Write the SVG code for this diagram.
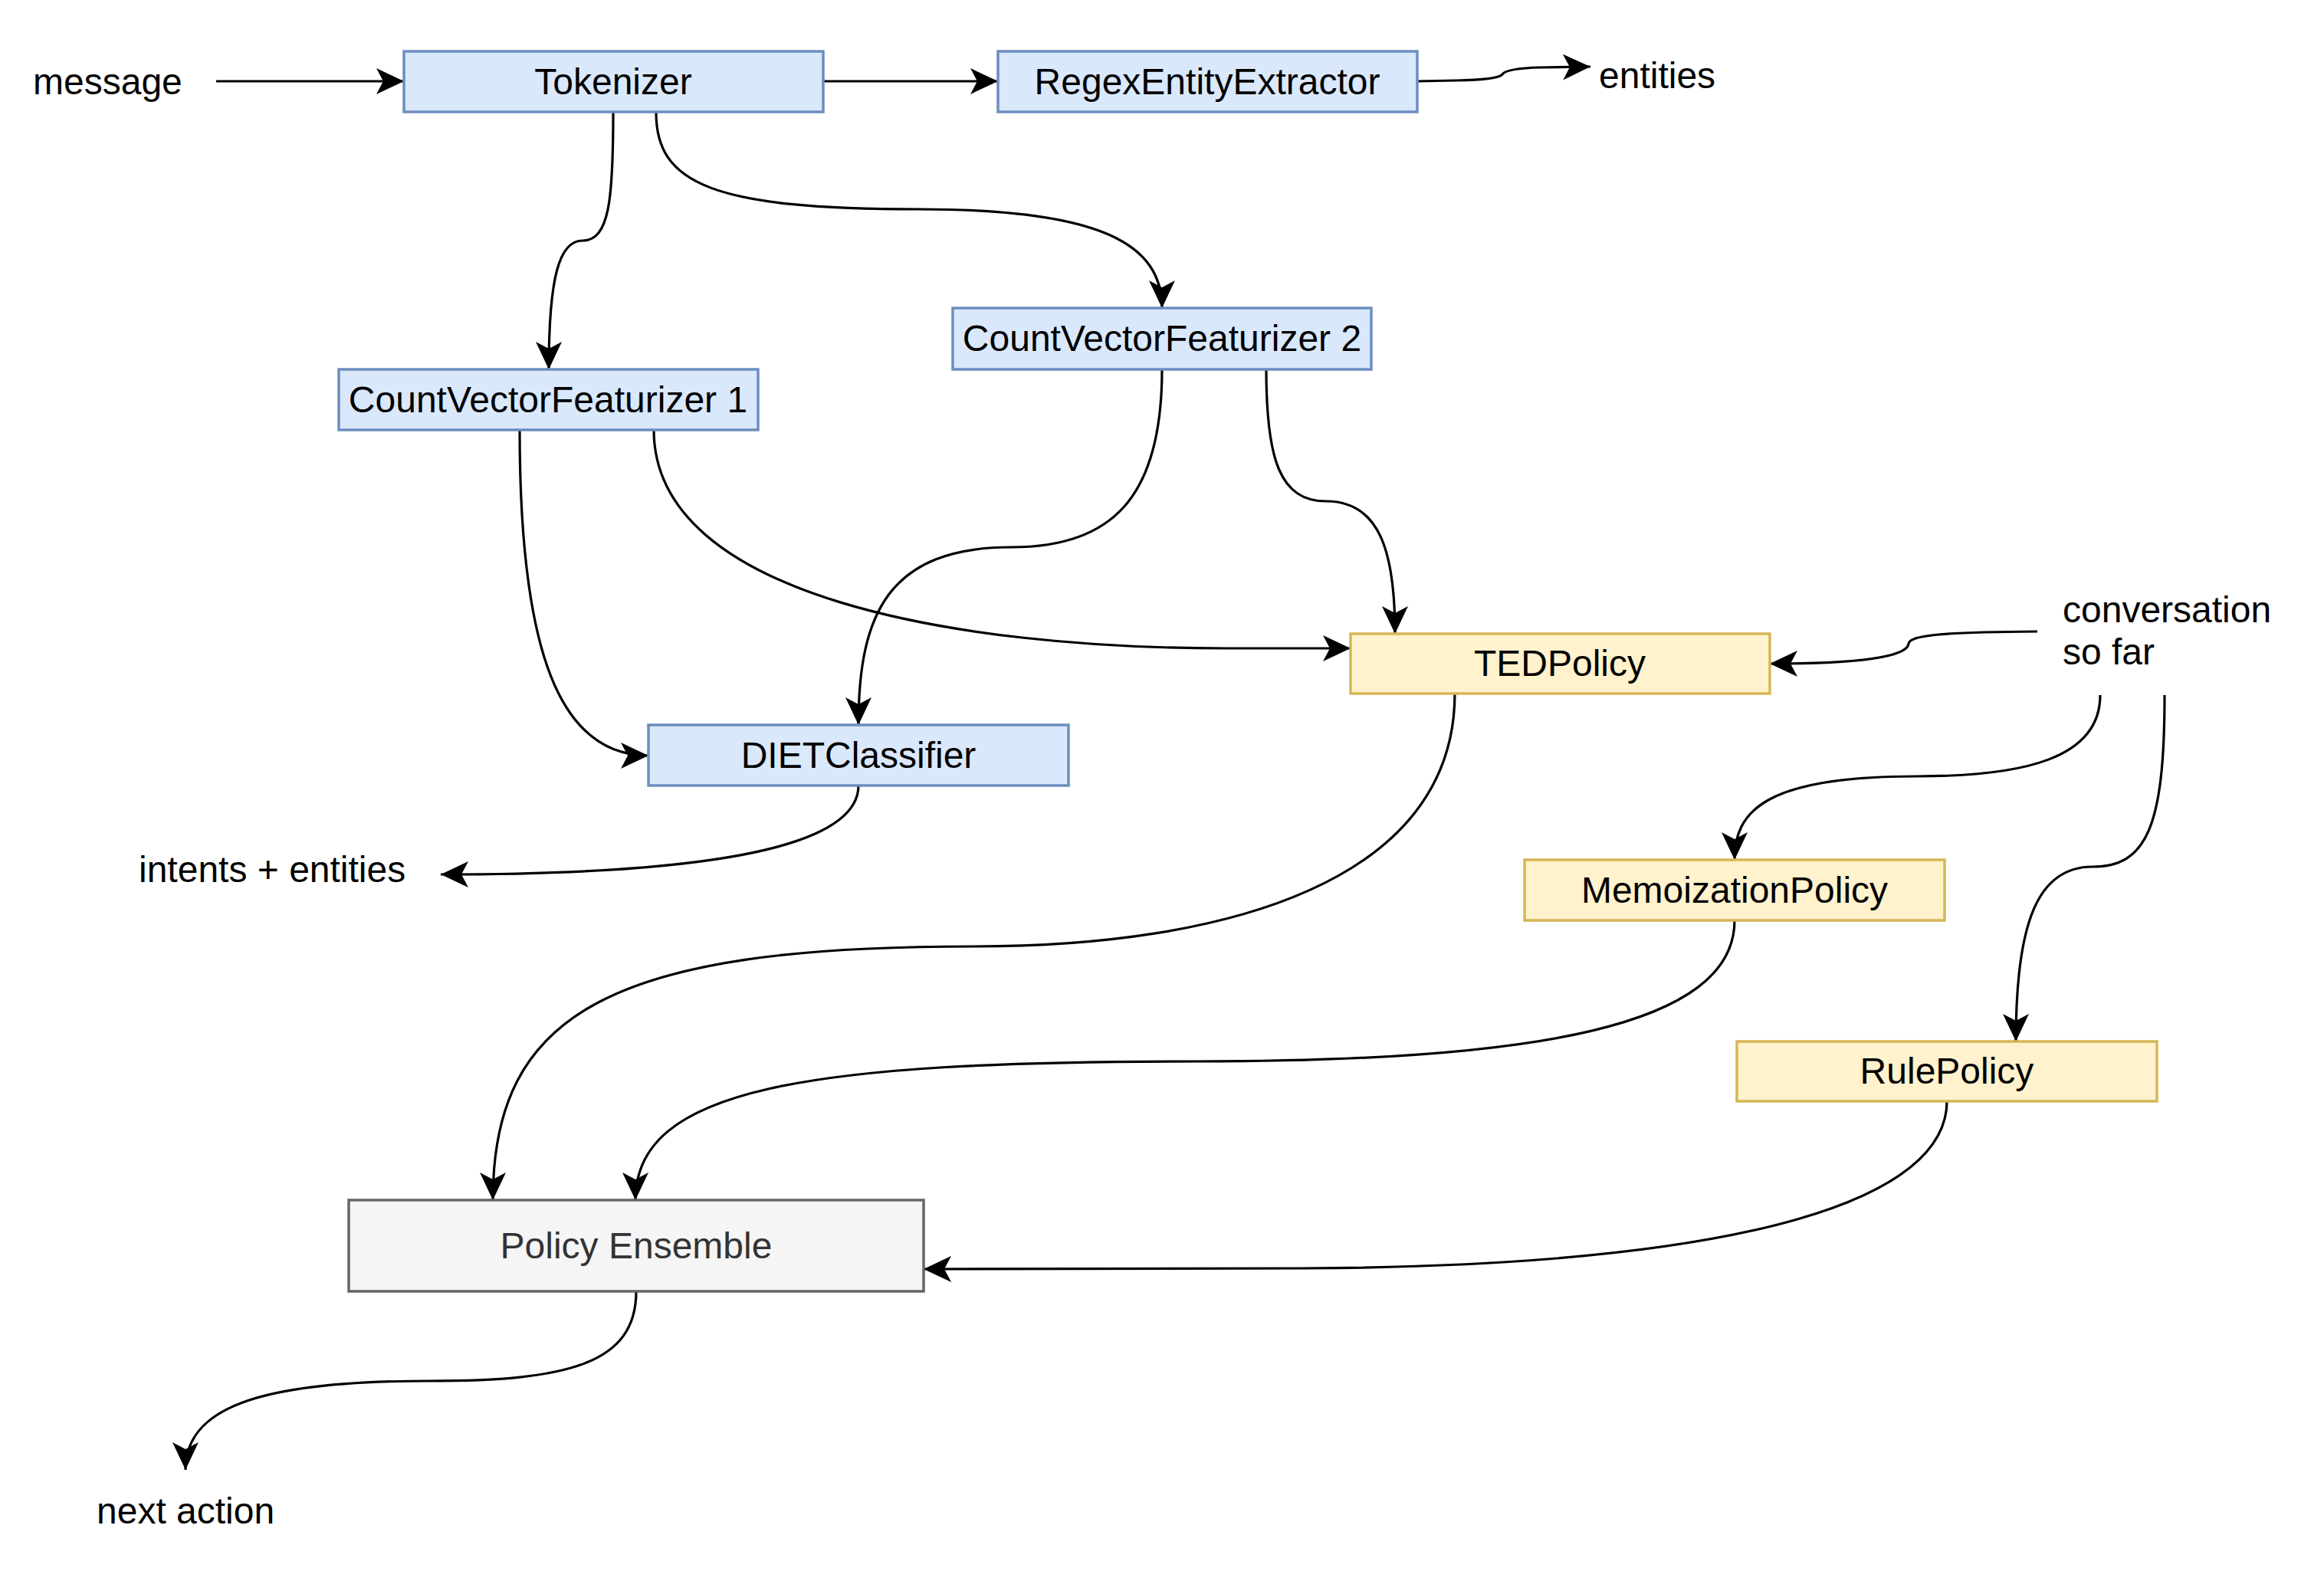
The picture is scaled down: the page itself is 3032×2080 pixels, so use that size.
<svg xmlns="http://www.w3.org/2000/svg" width="3032" height="2080" viewBox="0 0 3032 2080">
<style>
.lbl{font-family:"Liberation Sans",Arial,Helvetica,sans-serif;font-size:48px;fill:#000}
.ctr{text-anchor:middle}
.blue{fill:#dae8fc;stroke:#6c8ebf;stroke-width:3.5}
.yel{fill:#fff2cc;stroke:#d6b656;stroke-width:3.5}
.gray{fill:#f5f5f5;stroke:#666666;stroke-width:3.5}
.edge{fill:none;stroke:#000;stroke-width:3.2;marker-end:url(#arr)}
</style>
<defs>
<marker id="arr" viewBox="0 0 36 34" refX="36" refY="17" markerUnits="userSpaceOnUse" markerWidth="36" markerHeight="34" orient="auto">
<path d="M0,0 L36,17 L0,34 L9,17 Z" fill="#000"/>
</marker>
</defs>
<rect width="3032" height="2080" fill="#ffffff"/>
<g id="connectors">
<path class="edge" d="M282,106 L527,106"/>
<path class="edge" d="M1074,106 L1302,106"/>
<path class="edge" d="M1849,106 L1900,105 Q1955,104 1960,97 Q1966,89 2010,88 L2075,87"/>
<path class="edge" d="M800,147 C800,260 795,314 760,314 C730,314 716,360 716,482"/>
<path class="edge" d="M856,147 C856,240 930,273 1200,273 C1440,273 1516,320 1516,402"/>
<path class="edge" d="M678,561 C678,850 730,986 846,986"/>
<path class="edge" d="M853,561 C853,780 1250,846 1600,846 L1762,846"/>
<path class="edge" d="M1516,482 C1516,650 1450,714 1320,714 C1160,714 1120,800 1120,946"/>
<path class="edge" d="M1652,482 C1652,600 1670,654 1730,654 C1800,654 1820,720 1820,827"/>
<path class="edge" d="M2658,824 C2530,825 2492,829 2490,840 C2488,858 2420,866 2309,866"/>
<path class="edge" d="M2740,907 C2740,990 2640,1013 2500,1013 C2300,1013 2263,1060 2263,1122"/>
<path class="edge" d="M2824,907 C2824,1080 2800,1131 2730,1131 C2660,1131 2630,1200 2630,1359"/>
<path class="edge" d="M1120,1025 C1120,1120 850,1141 575,1141"/>
<path class="edge" d="M1898,905 C1898,1150 1600,1235 1270,1235 C800,1235 643,1320 643,1566"/>
<path class="edge" d="M2263,1201 C2263,1340 2000,1385 1560,1385 C1050,1385 829,1420 829,1566"/>
<path class="edge" d="M2540,1437 C2540,1560 2300,1652 1700,1655 L1205,1656"/>
<path class="edge" d="M830,1685 C830,1780 740,1802 560,1802 C330,1802 242,1840 242,1918"/>
</g>
<g id="node-tokenizer"><rect class="blue" x="527" y="67" width="547" height="79"/><text class="lbl ctr" x="800" y="123">Tokenizer</text></g>
<g id="node-regex"><rect class="blue" x="1302" y="67" width="547" height="79"/><text class="lbl ctr" x="1575" y="123">RegexEntityExtractor</text></g>
<g id="node-cvf1"><rect class="blue" x="442" y="482" width="547" height="79"/><text class="lbl ctr" x="715" y="538">CountVectorFeaturizer 1</text></g>
<g id="node-cvf2"><rect class="blue" x="1243" y="402" width="546" height="80"/><text class="lbl ctr" x="1516" y="458">CountVectorFeaturizer 2</text></g>
<g id="node-diet"><rect class="blue" x="846" y="946" width="548" height="79"/><text class="lbl ctr" x="1120" y="1002">DIETClassifier</text></g>
<g id="node-ted"><rect class="yel" x="1762" y="827" width="547" height="78"/><text class="lbl ctr" x="2035" y="882">TEDPolicy</text></g>
<g id="node-memo"><rect class="yel" x="1989" y="1122" width="548" height="79"/><text class="lbl ctr" x="2263" y="1178">MemoizationPolicy</text></g>
<g id="node-rule"><rect class="yel" x="2266" y="1359" width="548" height="78"/><text class="lbl ctr" x="2540" y="1414">RulePolicy</text></g>
<g id="node-ensemble"><rect class="gray" x="455" y="1566" width="750" height="119"/><text class="lbl ctr" x="830" y="1642" style="fill:#333333">Policy Ensemble</text></g>
<g id="node-message"><text class="lbl" x="43" y="123">message</text></g>
<g id="node-entities"><text class="lbl" x="2086" y="115">entities</text></g>
<g id="node-conversation"><text class="lbl" x="2691" y="812">conversation</text><text class="lbl" x="2691" y="867">so far</text></g>
<g id="node-intents"><text class="lbl" x="181" y="1151">intents + entities</text></g>
<g id="node-next"><text class="lbl" x="126" y="1988">next action</text></g>
</svg>
